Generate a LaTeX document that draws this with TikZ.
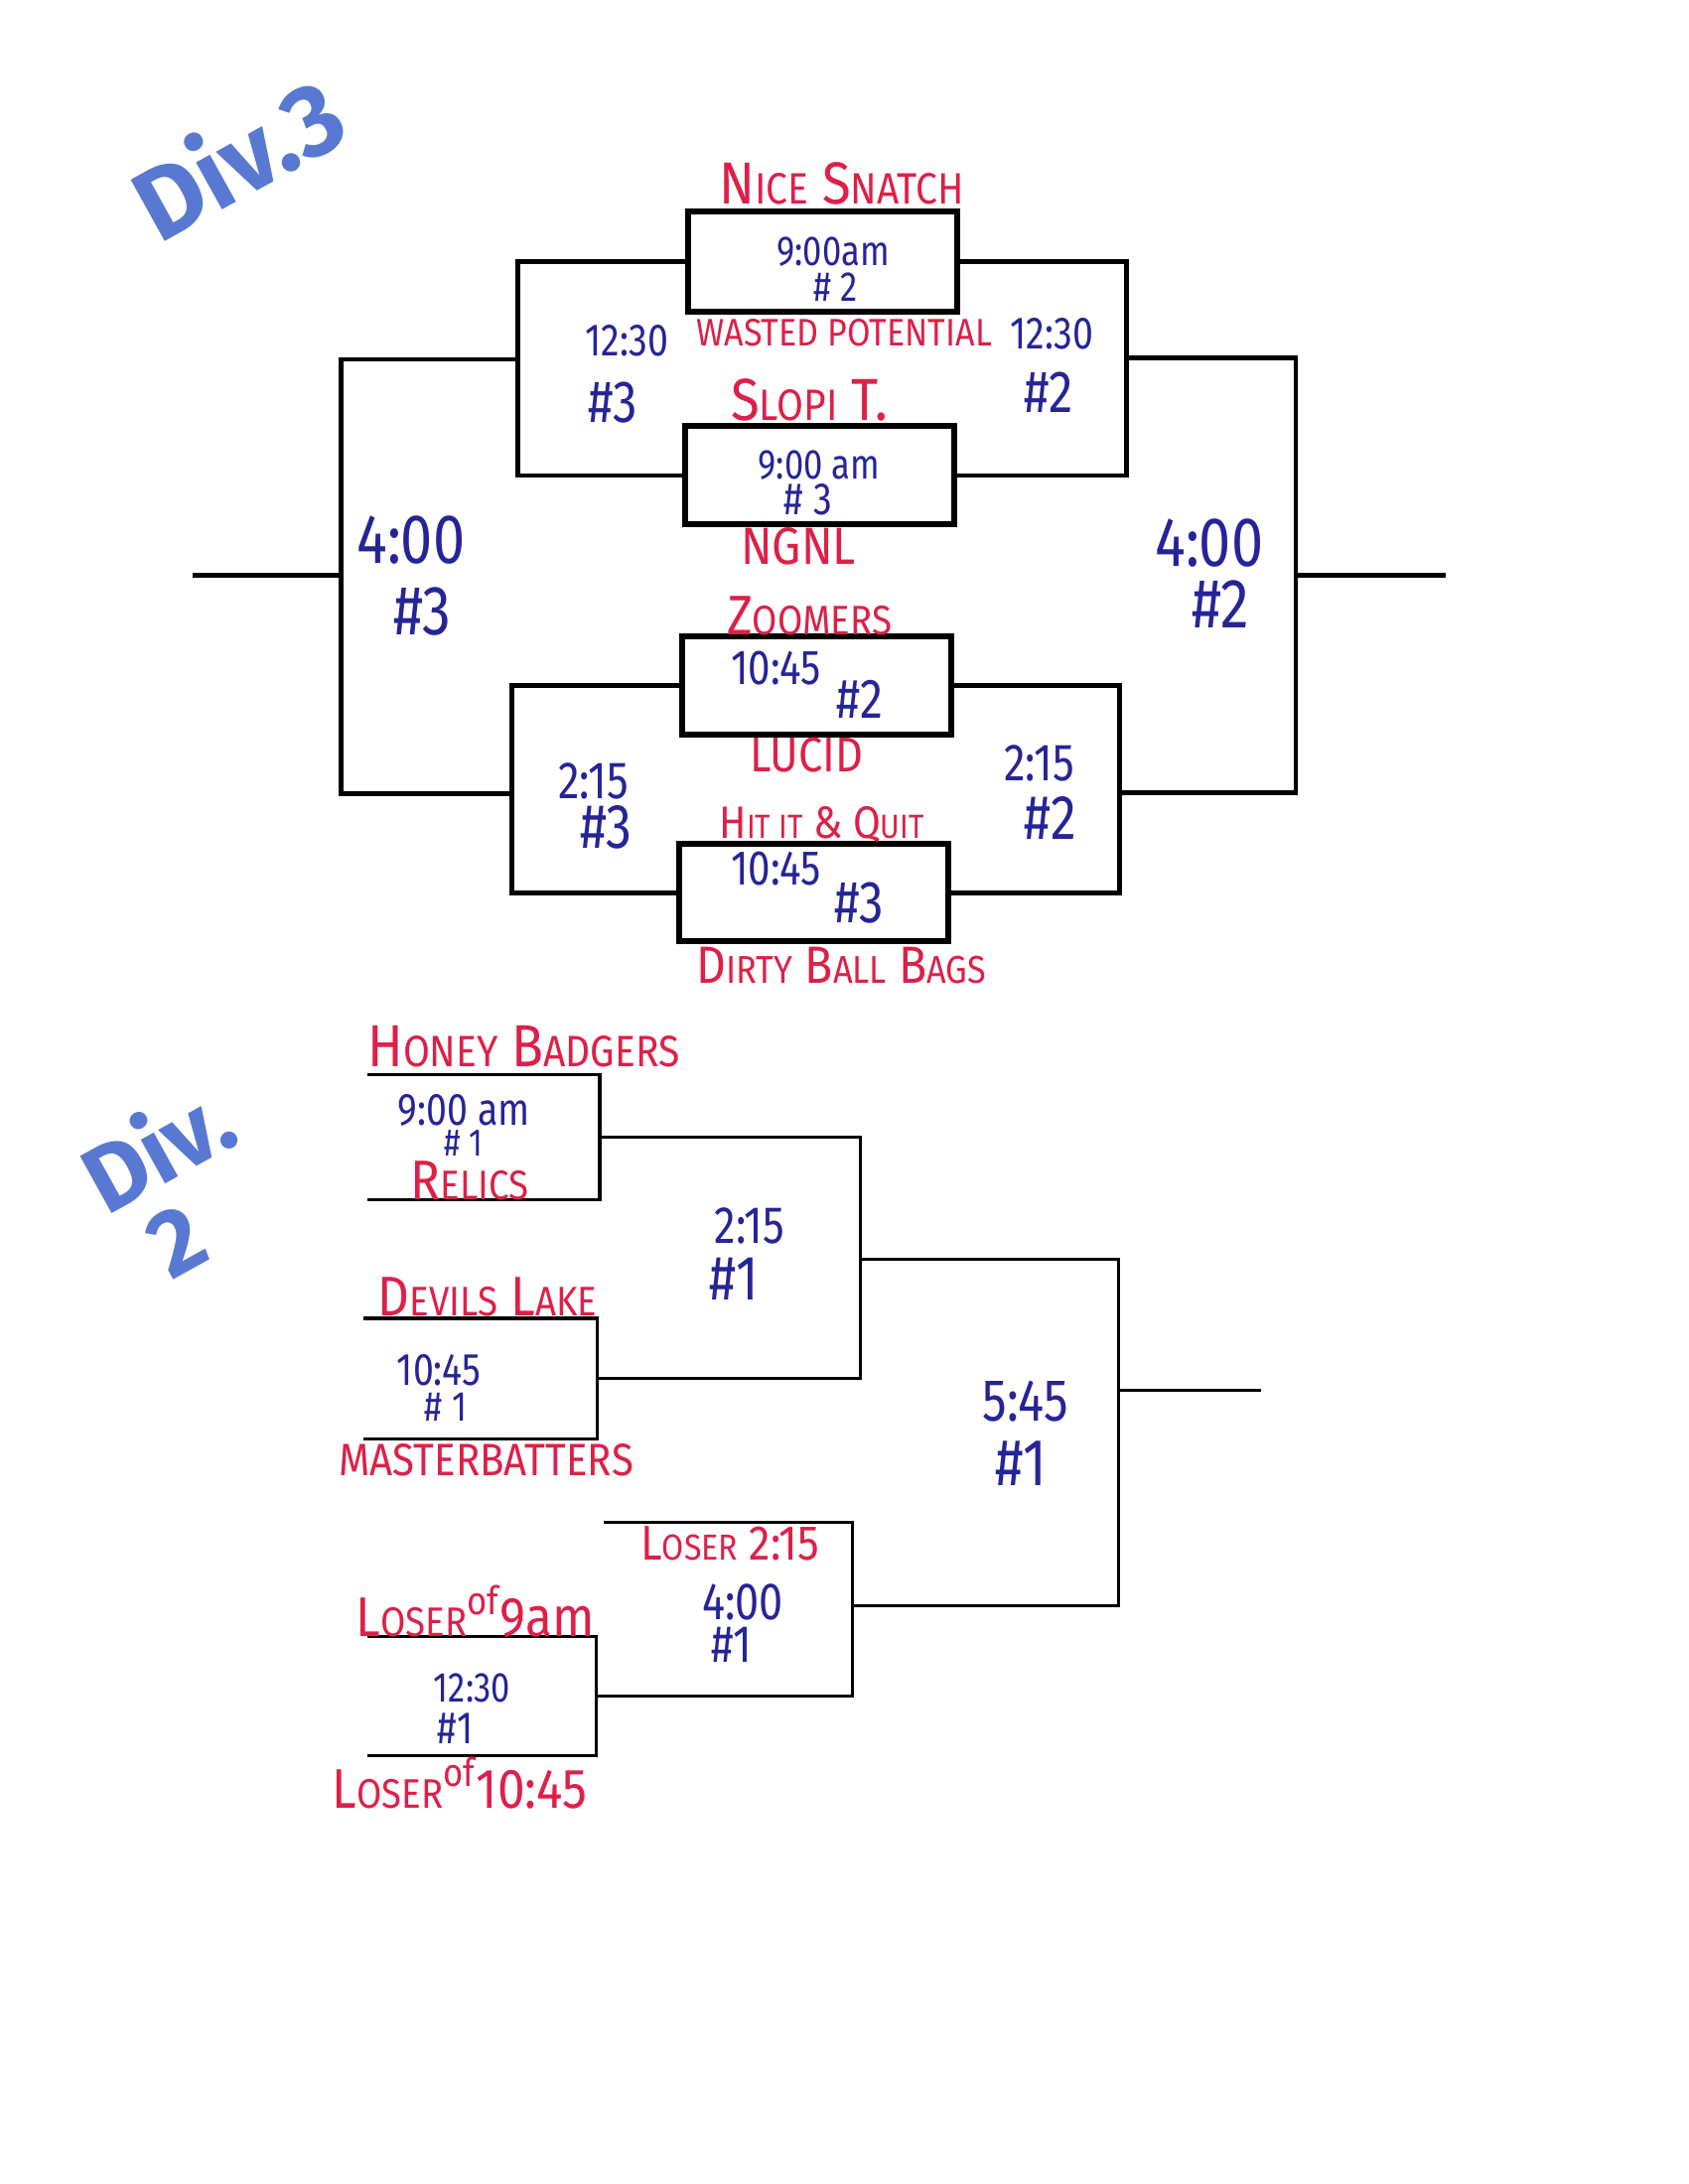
\documentclass[tikz,border=0pt]{standalone}
\usepackage{fontspec}
\setmainfont{Fira Sans}
\usepackage{graphicx}
\definecolor{redink}{RGB}{221,32,72}
\definecolor{blueink}{RGB}{38,36,150}
\definecolor{divblue}{RGB}{88,120,210}
\newcommand\fsz[1]{\fontsize{#1}{#1}\selectfont}
\newcommand\smc[1]{\scalebox{0.74}{#1}}
\newcommand\pxu{0.014026cm}
\begin{document}
\begin{tikzpicture}[x=0.014026cm, y=-0.014026cm,
  redt/.style={text=redink, inner sep=0pt, xscale=0.88},
  bluet/.style={text=blueink, inner sep=0pt, xscale=0.82},
  divt/.style={text=divblue, inner sep=0pt},
  wire3/.style={line width=1.3pt},
  box3/.style={draw, line width=1.7pt, inner sep=0pt},
  wire2/.style={line width=0.9pt},
  slot/.style={inner sep=0pt},
]
\useasboundingbox[fill=white] (0,0) rectangle (1212,1568);

% ---------- Div. 3 ----------
\node[divt, rotate=29, font=\fsz{29}\bfseries] (div3) at (170,112) {Div.3};

\node[box3, minimum width=193*\pxu, minimum height=72*\pxu] (A) at (590.5,188) {};
\node[box3, minimum width=193*\pxu, minimum height=70.5*\pxu] (B) at (588.3,341.3) {};
\node[box3, minimum width=193*\pxu, minimum height=70.6*\pxu] (C) at (586.1,492.3) {};
\node[box3, minimum width=193*\pxu, minimum height=69.7*\pxu] (D) at (584.1,640.9) {};

\coordinate (j1) at (371.6,258);
\coordinate (j2) at (367.6,570);
\coordinate (j1r) at (808.5,257);
\coordinate (j2r) at (803.6,569);
\coordinate (J) at (245,413);
\coordinate (Jr) at (930,413);
\coordinate (oL) at (138,413);
\coordinate (oR) at (1038,413);

\draw[wire3] (A.west) -| (j1) |- (B.west);
\draw[wire3] (C.west) -| (j2) |- (D.west);
\draw[wire3] (A.east) -| (j1r) |- (B.east);
\draw[wire3] (C.east) -| (j2r) |- (D.east);
\draw[wire3] (j1) -| (J) |- (j2);
\draw[wire3] (j1r) -| (Jr) |- (j2r);
\draw[wire3] (J) -- (oL);
\draw[wire3] (Jr) -- (oR);

\node[redt, font=\fsz{17}] (n1) at (604,132) {N\smc{ICE} S\smc{NATCH}};
\node[bluet, font=\fsz{12}] (n2) at (598,181) {9:00am};
\node[bluet, font=\fsz{12}] (n3) at (600,206) {\# 2};
\node[redt, font=\fsz{11}] (n4) at (606,239) {WASTED POTENTIAL};
\node[bluet, font=\fsz{13}] (n5) at (450,245) {12:30};
\node[bluet, font=\fsz{17}] (n6) at (440,289) {\#3};
\node[bluet, font=\fsz{13}] (n7) at (755,240) {12:30};
\node[bluet, font=\fsz{17}] (n8) at (753,282) {\#2};
\node[redt, font=\fsz{17}] (n9) at (581,287) {S\smc{LOPI} T.};
\node[bluet, font=\fsz{12}] (n10) at (588,334) {9:00 am};
\node[bluet, font=\fsz{13}] (n11) at (580,359) {\# 3};
\node[redt, font=\fsz{15}] (n12) at (573,392) {NGNL};
\node[bluet, font=\fsz{20}] (n13) at (295,388) {4:00};
\node[bluet, font=\fsz{20}] (n14) at (303,439) {\#3};
\node[bluet, font=\fsz{20}] (n15) at (868,390) {4:00};
\node[bluet, font=\fsz{20}] (n16) at (876,434) {\#2};
\node[redt, font=\fsz{16}] (n17) at (581,442) {Z\smc{OOMERS}};
\node[bluet, font=\fsz{14}] (n18) at (557,480) {10:45};
\node[bluet, font=\fsz{16}] (n19) at (617,502) {\#2};
\node[redt, font=\fsz{14}] (n20) at (579,542) {LUCID};
\node[bluet, font=\fsz{15}] (n21) at (426,561) {2:15};
\node[bluet, font=\fsz{18}] (n22) at (435,594) {\#3};
\node[bluet, font=\fsz{15}] (n23) at (746,548) {2:15};
\node[bluet, font=\fsz{18}] (n24) at (754,587) {\#2};
\node[redt, font=\fsz{13}] (n25) at (590,592) {H\smc{IT IT} \& Q\smc{UIT}};
\node[bluet, font=\fsz{14}] (n26) at (557,624) {10:45};
\node[bluet, font=\fsz{17}] (n27) at (617,648) {\#3};
\node[redt, font=\fsz{15}] (n28) at (604,693) {D\smc{IRTY} B\smc{ALL} B\smc{AGS}};

% ---------- Div. 2 ----------
\node[divt, rotate=29, font=\fsz{27}\bfseries, align=center] (div2) at (127,850) {Div.\\[-2pt]\hspace*{-16pt}2};

\node[slot, minimum width=166*\pxu, minimum height=89*\pxu] (b1) at (347,816.5) {};
\node[slot, minimum width=167*\pxu, minimum height=85.6*\pxu] (b2) at (344.5,989.8) {};
\node[slot, minimum width=163*\pxu, minimum height=84.3*\pxu] (b4) at (346,1217.8) {};
\draw[wire2] (b1.north west) -- (b1.north east) -- (b1.south east) -- (b1.south west);
\draw[wire2] (b2.north west) -- (b2.north east) -- (b2.south east) -- (b2.south west);
\draw[wire2] (b4.north west) -- (b4.north east) -- (b4.south east) -- (b4.south west);

\coordinate (m1) at (617.6,904);
\coordinate (m2) at (612,1153);
\coordinate (f) at (803,998);
\coordinate (fo) at (905,998);
\coordinate (l3) at (433.5,1093);
\draw[wire2] (b1.east) -| (m1) |- (b2.east);
\draw[wire2] (m1) -| (f) |- (m2);
\draw[wire2] (f) -- (fo);
\draw[wire2] (l3) -| (m2) |- (b4.east);

\node[redt, font=\fsz{17}] (d1) at (376,751) {H\smc{ONEY} B\smc{ADGERS}};
\node[bluet, font=\fsz{13}] (d2) at (333,797) {9:00 am};
\node[bluet, font=\fsz{11}] (d3) at (333,821) {\# 1};
\node[redt, font=\fsz{16}] (d4) at (337,848) {R\smc{ELICS}};
\node[bluet, font=\fsz{15}] (d5) at (538,880) {2:15};
\node[bluet, font=\fsz{18}] (d6) at (527,918) {\#1};
\node[redt, font=\fsz{16}] (d7) at (350,931) {D\smc{EVILS} L\smc{AKE}};
\node[bluet, font=\fsz{13}] (d8) at (315,984) {10:45};
\node[bluet, font=\fsz{12}] (d9) at (320,1010) {\# 1};
\node[redt, font=\fsz{13}] (d10) at (349,1048) {MASTERBATTERS};
\node[redt, font=\fsz{14}] (d11) at (524,1108) {L\smc{OSER} 2:15};
\node[bluet, font=\fsz{15}] (d12) at (533,1150) {4:00};
\node[bluet, font=\fsz{15}] (d13) at (525,1181) {\#1};
\node[redt, font=\fsz{16}] (d14) at (341,1157) {L\smc{OSER}\textsuperscript{of}9am};
\node[bluet, font=\fsz{12}] (d15) at (339,1212) {12:30};
\node[bluet, font=\fsz{13}] (d16) at (327,1241) {\#1};
\node[redt, font=\fsz{16}] (d17) at (330,1280) {L\smc{OSER}\textsuperscript{of}10:45};
\node[bluet, font=\fsz{17}] (d18) at (736,1006) {5:45};
\node[bluet, font=\fsz{19}] (d19) at (733,1051) {\#1};
\end{tikzpicture}
\end{document}
